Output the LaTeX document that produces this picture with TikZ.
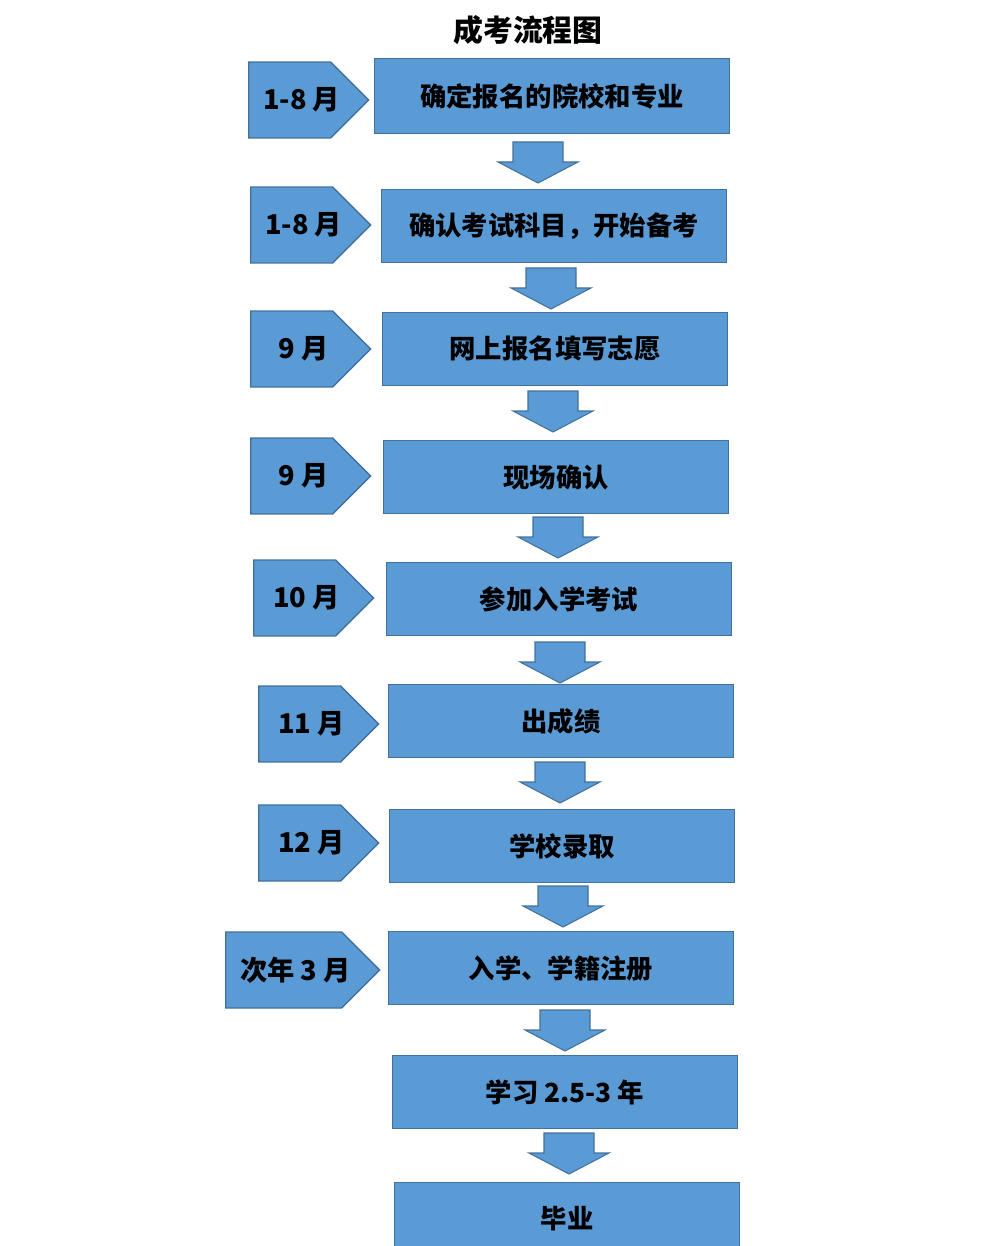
\documentclass[tikz,border=0pt]{standalone}
\usepackage{fontspec}
\newfontfamily\cjk{Noto Sans CJK SC}
\usetikzlibrary{positioning,shapes.symbols}
\definecolor{boxblue}{HTML}{5B9BD5}
\definecolor{edgeblue}{HTML}{41719C}

\begin{document}
\begin{tikzpicture}[x=0.02cm, y=-0.02cm,
  stepbox/.style={draw=edgeblue, fill=boxblue, line width=0.8pt, rectangle,
    minimum width=6.9cm, minimum height=1.46cm, inner sep=0pt,
    font=\cjk\bfseries\fontsize{15}{17}\selectfont},
  monthtag/.style={draw=edgeblue, fill=boxblue, line width=0.8pt, signal, signal to=east,
    signal pointer angle=90, minimum width=2.4cm, minimum height=1.52cm, inner sep=0pt,
    anchor=west},
  tagtext/.style={xshift=0.24cm, inner sep=0pt, font=\cjk\bfseries\fontsize{15.5}{17}\selectfont},
  downarrow/.style={draw=edgeblue, fill=boxblue, line width=0.6pt, line join=miter}]

\useasboundingbox (0,0) rectangle (998,1246);

% Title
\node[font=\cjk\bfseries\fontsize{17}{19}\selectfont] (title) at (528,30) {成考流程图};

% Steps
\node[stepbox, minimum width=7.1cm, minimum height=1.5cm] (s1) at (552,96) {确定报名的院校和专业};
\node[stepbox] (s2) at (554,226) {确认考试科目，开始备考};
\node[stepbox] (s3) at (555,349) {网上报名填写志愿};
\node[stepbox] (s4) at (556,477) {现场确认};
\node[stepbox] (s5) at (559,599) {参加入学考试};
\node[stepbox] (s6) at (561,721) {出成绩};
\node[stepbox] (s7) at (562,846) {学校录取};
\node[stepbox] (s8) at (561,968) {入学、学籍注册};
\node[stepbox] (s9) at (565,1092) {学习 2.5-3 年};
\node[stepbox] (s10) at (567,1219) {毕业};

% Month tags
\node[monthtag, label={[tagtext]center:1-8 月}] (m1) at (248,100) {};
\node[monthtag, label={[tagtext]center:1-8 月}] (m2) at (250,225) {};
\node[monthtag, label={[tagtext]center:9 月}] (m3) at (250,349) {};
\node[monthtag, label={[tagtext]center:9 月}] (m4) at (250,476) {};
\node[monthtag, label={[tagtext]center:10 月}] (m5) at (253,598) {};
\node[monthtag, label={[tagtext]center:11 月}] (m6) at (258,724) {};
\node[monthtag, label={[tagtext]center:12 月}] (m7) at (258,843) {};
\node[monthtag, minimum width=3.08cm, label={[tagtext]center:次年 3 月}] (m8) at (225,970) {};

% Block arrows between steps (centre x / top y)
\foreach \cx/\top in {538/142, 551/268, 553/391, 558/517, 560/642, 560/762, 563/886, 565/1010, 569/1133}
  \draw[downarrow] (\cx-25,\top) -- ++(50,0) -- ++(0,20) -- ++(15,0)
    -- (\cx,\top+41) -- (\cx-40,\top+20) -- ++(15,0) -- cycle;
\end{tikzpicture}
\end{document}
